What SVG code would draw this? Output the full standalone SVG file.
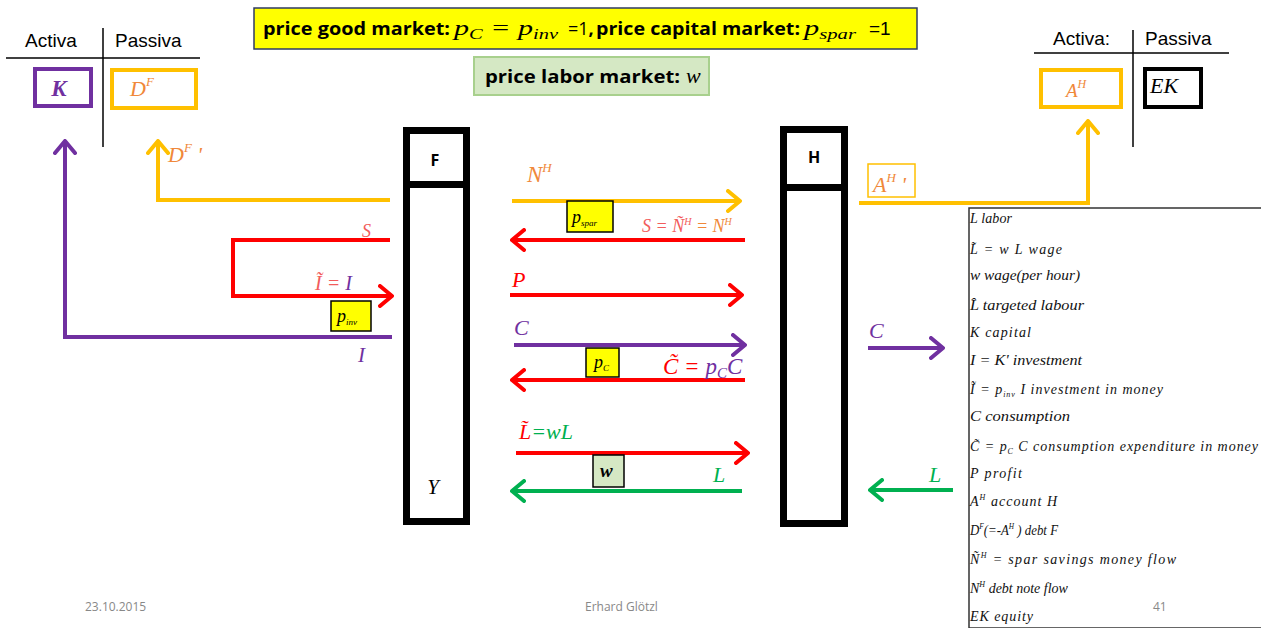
<svg xmlns="http://www.w3.org/2000/svg" width="1261" height="628" viewBox="0 0 1261 628">
<style>
.sans{font-family:"Liberation Sans",Arial,sans-serif}
.bold{font-family:"Open Sans","Liberation Sans",Arial,sans-serif;font-weight:bold;fill:#000}
.m{font-family:"Liberation Serif","Times New Roman",serif;font-style:italic}
.lg{font-family:"Liberation Serif","Times New Roman",serif;font-style:italic;font-size:14px;fill:#111}
.foot{font-family:"Open Sans","Liberation Sans",sans-serif;font-size:12px;fill:#888}
.pur{fill:#7030A0}.org{fill:#F0883A}.red{fill:#FF0000}.pink{fill:#F25C5C}.grn{fill:#00B050}
.lp{stroke:#7030A0;stroke-width:4;fill:none}
.lo{stroke:#FFC000;stroke-width:4;fill:none}
.lr{stroke:#FF0000;stroke-width:4;fill:none}
.lgn{stroke:#00B050;stroke-width:4;fill:none}
.pbox{fill:#FFFF00;stroke:#000;stroke-width:1.5}
.acct{stroke:#000;stroke-width:1.5}
</style>
<defs>
<marker id="mp" viewBox="0 0 16 24" markerWidth="16" markerHeight="24" refX="14" refY="12" orient="auto" markerUnits="userSpaceOnUse"><path d="M2,2 L14,12 L2,22" fill="none" stroke="#7030A0" stroke-width="4" stroke-linecap="round" stroke-linejoin="round"/></marker>
<marker id="mo" viewBox="0 0 16 24" markerWidth="16" markerHeight="24" refX="14" refY="12" orient="auto" markerUnits="userSpaceOnUse"><path d="M2,2 L14,12 L2,22" fill="none" stroke="#FFC000" stroke-width="4" stroke-linecap="round" stroke-linejoin="round"/></marker>
<marker id="mr" viewBox="0 0 16 24" markerWidth="16" markerHeight="24" refX="14" refY="12" orient="auto" markerUnits="userSpaceOnUse"><path d="M2,2 L14,12 L2,22" fill="none" stroke="#FF0000" stroke-width="4" stroke-linecap="round" stroke-linejoin="round"/></marker>
<marker id="mg" viewBox="0 0 16 24" markerWidth="16" markerHeight="24" refX="14" refY="12" orient="auto" markerUnits="userSpaceOnUse"><path d="M2,2 L14,12 L2,22" fill="none" stroke="#00B050" stroke-width="4" stroke-linecap="round" stroke-linejoin="round"/></marker>
</defs>
<rect width="1261" height="628" fill="#fff"/>

<!-- price banners -->
<g id="price-good">
<rect x="254" y="8" width="663" height="41" fill="#FFFF00" stroke="#2F3B63" stroke-width="1.5"/>
<text class="bold" x="263" y="35" font-size="18" textLength="187" lengthAdjust="spacingAndGlyphs">price good market:</text>
<text class="m" x="454" y="35" font-size="22" textLength="104" lengthAdjust="spacingAndGlyphs">p<tspan font-size="15" dy="4">C</tspan><tspan dy="-4"> = p</tspan><tspan font-size="15" dy="4">inv</tspan></text>
<text class="bold" x="568" y="35" font-size="18"><tspan font-weight="normal">=1</tspan>,</text>
<text class="bold" x="596" y="35" font-size="18" textLength="204" lengthAdjust="spacingAndGlyphs">price capital market:</text>
<text class="m" x="804" y="35" font-size="22" textLength="52" lengthAdjust="spacingAndGlyphs">p<tspan font-size="15" dy="4">spar</tspan></text>
<text class="sans" x="869" y="35" font-size="19">=1</text>
</g>
<g id="price-labor">
<rect x="474" y="57" width="235" height="38" fill="#D5E8C4" stroke="#A8D08D" stroke-width="2"/>
<text class="bold" x="485" y="83" font-size="18" textLength="195" lengthAdjust="spacingAndGlyphs">price labor market:</text>
<text class="m" x="686" y="83" font-size="22">w</text>
</g>

<!-- left balance sheet -->
<g id="balance-F">
<text class="sans" x="25" y="47" font-size="19">Activa</text>
<text class="sans" x="115" y="47" font-size="19">Passiva</text>
<line class="acct" x1="6" y1="58" x2="200" y2="58"/>
<line class="acct" x1="103" y1="28" x2="103" y2="147"/>
<rect x="35" y="69" width="56" height="37" fill="none" stroke="#7030A0" stroke-width="4"/>
<text class="m pur" x="59" y="96" font-size="23" font-weight="bold" text-anchor="middle">K</text>
<rect x="112" y="70" width="84" height="38" fill="none" stroke="#FFC000" stroke-width="4"/>
<text class="m org" x="130" y="96" font-size="22">D<tspan font-size="13" dy="-10">F</tspan></text>
</g>

<!-- right balance sheet -->
<g id="balance-H">
<text class="sans" x="1053" y="45" font-size="19">Activa:</text>
<text class="sans" x="1145" y="45" font-size="19">Passiva</text>
<line class="acct" x1="1034" y1="53" x2="1229" y2="53"/>
<line class="acct" x1="1133" y1="30" x2="1133" y2="147"/>
<rect x="1041" y="70" width="80" height="37" fill="none" stroke="#FFC000" stroke-width="4"/>
<text class="m org" x="1066" y="97" font-size="19">A<tspan font-size="12" dy="-9">H</tspan></text>
<rect x="1145" y="69" width="56" height="38" fill="none" stroke="#000" stroke-width="4"/>
<text class="m" x="1150" y="93" font-size="22" fill="#000">EK</text>
</g>

<!-- F node -->
<g id="node-F">
<rect x="406.5" y="130.5" width="60" height="391" fill="#fff" stroke="#000" stroke-width="7"/>
<line x1="403" y1="184.5" x2="470" y2="184.5" stroke="#000" stroke-width="7"/>
<text class="bold" x="435" y="166" font-size="16" text-anchor="middle">F</text>
<text class="m" x="433" y="494" font-size="21" text-anchor="middle" fill="#000">Y</text>
</g>

<!-- H node -->
<g id="node-H">
<rect x="783.5" y="129.5" width="61" height="394" fill="#fff" stroke="#000" stroke-width="7"/>
<line x1="780" y1="187.5" x2="848" y2="187.5" stroke="#000" stroke-width="7"/>
<text class="bold" x="814" y="163" font-size="16" text-anchor="middle">H</text>
</g>

<!-- connectors -->
<g id="connectors">
<polyline class="lp" points="392,337 65,337 65,141" marker-end="url(#mp)"/>
<polyline class="lo" points="390,200 158,200 158,141" marker-end="url(#mo)"/>
<polyline class="lr" points="390,240 233,240 233,296 392,296" marker-end="url(#mr)"/>
<line class="lo" x1="512" y1="201" x2="740" y2="201" marker-end="url(#mo)"/>
<line class="lr" x1="745" y1="240" x2="512" y2="240" marker-end="url(#mr)"/>
<line class="lr" x1="510" y1="295" x2="742" y2="295" marker-end="url(#mr)"/>
<line class="lp" x1="514" y1="345" x2="745" y2="345" marker-end="url(#mp)"/>
<line class="lr" x1="745" y1="380" x2="512" y2="380" marker-end="url(#mr)"/>
<line class="lr" x1="516" y1="453" x2="748" y2="453" marker-end="url(#mr)"/>
<line class="lgn" x1="742" y1="491" x2="512" y2="491" marker-end="url(#mg)"/>
<polyline class="lo" points="859,203 1088,203 1088,121" marker-end="url(#mo)"/>
<line class="lp" x1="868" y1="348" x2="943" y2="348" marker-end="url(#mp)"/>
<line class="lgn" x1="953" y1="490" x2="870" y2="490" marker-end="url(#mg)"/>
</g>

<!-- connector labels -->
<g id="labels">
<text class="m org" x="168" y="162" font-size="22">D<tspan font-size="13" dy="-10">F</tspan><tspan dy="10"> '</tspan></text>
<text class="m pink" x="362" y="237" font-size="18">S</text>
<text class="m" x="315" y="290" font-size="20"><tspan class="pink">Ĩ = </tspan><tspan class="pur">I</tspan></text>
<rect class="pbox" x="331" y="301" width="40" height="30"/>
<text class="m" x="337" y="322" font-size="18" fill="#000">p<tspan font-size="9" dy="3">inv</tspan></text>
<text class="m pur" x="358" y="362" font-size="21">I</text>

<text class="m org" x="527" y="182" font-size="23">N<tspan font-size="13" dy="-10">H</tspan></text>
<rect class="pbox" x="567" y="201" width="46" height="31"/>
<text class="m" x="572" y="223" font-size="18" fill="#000">p<tspan font-size="9" dy="3">spar</tspan></text>
<text class="m" x="642" y="232" font-size="18"><tspan class="pink">S = Ñ</tspan><tspan class="pink" font-size="10" dy="-7">H</tspan><tspan class="org" dy="7"> = N</tspan><tspan class="org" font-size="10" dy="-7">H</tspan></text>
<text class="m red" x="512" y="287" font-size="22">P</text>
<text class="m pur" x="514" y="335" font-size="22">C</text>
<rect class="pbox" x="586" y="348" width="33" height="29"/>
<text class="m" x="594" y="368" font-size="18" fill="#000">p<tspan font-size="9" dy="3">C</tspan></text>
<text class="m" x="663" y="374" font-size="23"><tspan class="red">C̃ = </tspan><tspan class="pur">p</tspan><tspan class="pur" font-size="15" dy="4">C</tspan><tspan class="pur" dy="-4">C</tspan></text>
<text class="m" x="519" y="439" font-size="22"><tspan class="red">L̃</tspan><tspan class="grn">=wL</tspan></text>
<rect x="593" y="455" width="31" height="32" fill="#D5E8C4" stroke="#000" stroke-width="1.5"/>
<text class="m" x="600" y="477" font-size="19" fill="#000" font-weight="bold">w</text>
<text class="m grn" x="713" y="482" font-size="22">L</text>

<rect x="868" y="164" width="47" height="33" fill="none" stroke="#FFC000" stroke-width="1.5"/>
<text class="m org" x="873" y="192" font-size="22">A<tspan font-size="13" dy="-10">H</tspan><tspan dy="10"> '</tspan></text>
<text class="m pur" x="869" y="338" font-size="22">C</text>
<text class="m grn" x="929" y="482" font-size="22">L</text>
</g>

<!-- legend -->
<g id="legend">
<rect x="969" y="208" width="300" height="420" fill="#fff" stroke="#333" stroke-width="1.5"/>
<text class="lg" x="970" y="223" textLength="42" lengthAdjust="spacing">L labor</text>
<text class="lg" x="970" y="254" textLength="92" lengthAdjust="spacing">L̃ = w L wage</text>
<text class="lg" x="970" y="280" textLength="110" lengthAdjust="spacingAndGlyphs">w wage(per hour)</text>
<text class="lg" x="970" y="310" textLength="114" lengthAdjust="spacingAndGlyphs">L̂ targeted labour</text>
<text class="lg" x="970" y="337" textLength="61" lengthAdjust="spacing">K capital</text>
<text class="lg" x="970" y="365" textLength="112" lengthAdjust="spacingAndGlyphs">I = K' investment</text>
<text class="lg" x="970" y="394" textLength="193" lengthAdjust="spacing">Ĩ = p<tspan font-size="8" dy="3">inv</tspan><tspan dy="-3"> I investment in money</tspan></text>
<text class="lg" x="970" y="421" textLength="100" lengthAdjust="spacingAndGlyphs">C consumption</text>
<text class="lg" x="970" y="451" textLength="288" lengthAdjust="spacing">C̃ = p<tspan font-size="8" dy="3">C</tspan><tspan dy="-3"> C consumption expenditure in money</tspan></text>
<text class="lg" x="970" y="478" textLength="52" lengthAdjust="spacing">P profit</text>
<text class="lg" x="970" y="506" textLength="87" lengthAdjust="spacing">A<tspan font-size="8" dy="-6">H</tspan><tspan dy="6">  account H</tspan></text>
<text class="lg" x="970" y="535" textLength="88" lengthAdjust="spacingAndGlyphs">D<tspan font-size="8" dy="-6">F</tspan><tspan dy="6">(=-A</tspan><tspan font-size="8" dy="-6">H</tspan><tspan dy="6"> ) debt F</tspan></text>
<text class="lg" x="970" y="564" textLength="206" lengthAdjust="spacing">Ñ<tspan font-size="8" dy="-6">H</tspan><tspan dy="6"> = spar  savings money  flow</tspan></text>
<text class="lg" x="970" y="593" font-size="15">N<tspan font-size="8" dy="-6">H</tspan><tspan dy="6">  debt note flow</tspan></text>
<text class="lg" x="970" y="621" textLength="63" lengthAdjust="spacing">EK equity</text>
</g>

<!-- footer -->
<g id="footer">
<text class="foot" x="85" y="611">23.10.2015</text>
<text class="foot" x="585" y="611">Erhard Glötzl</text>
<text class="foot" x="1153" y="611">41</text>
</g>
</svg>
